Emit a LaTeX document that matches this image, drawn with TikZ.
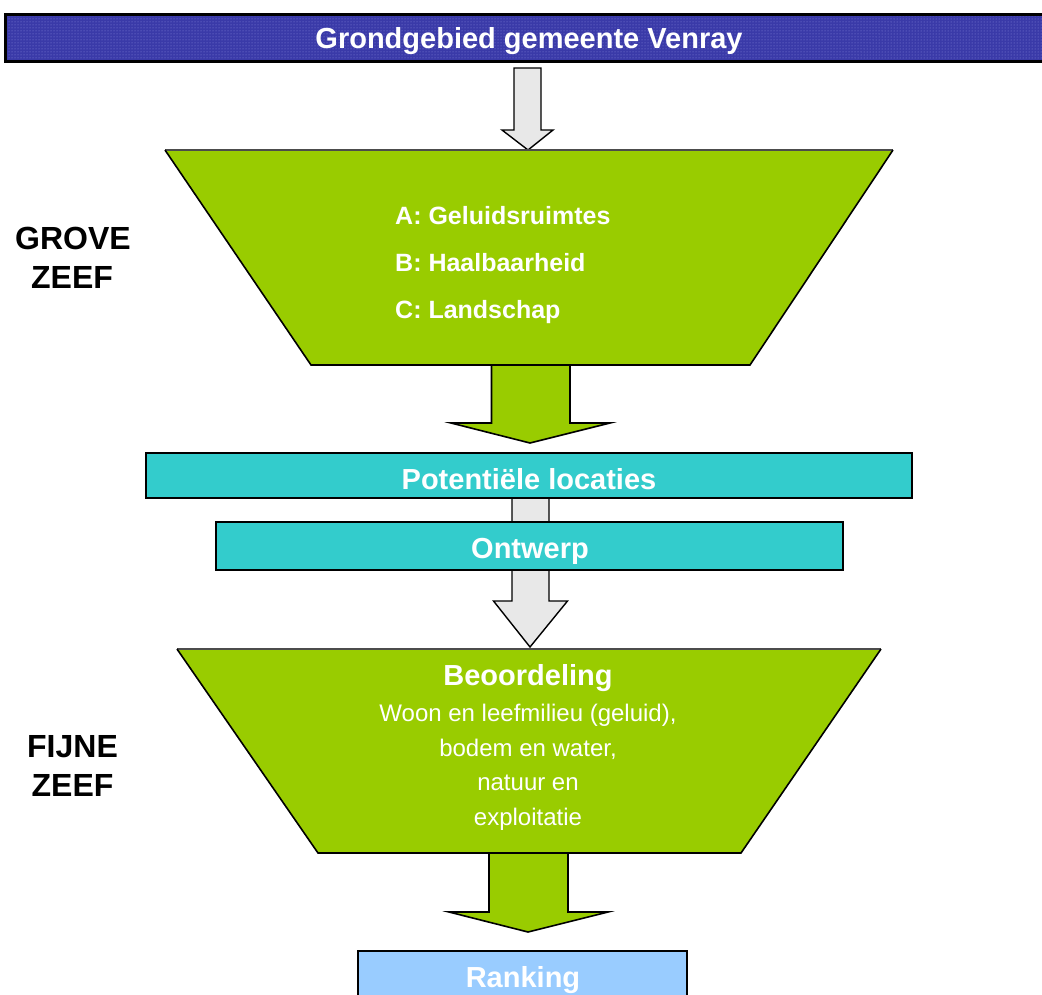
\documentclass[tikz,border=0pt]{standalone}
\usepackage{fontspec}
\setmainfont{Liberation Sans}
\usetikzlibrary{patterns}
\definecolor{barblue}{RGB}{58,58,168}
\definecolor{dotblue}{RGB}{140,140,220}
\definecolor{sievegreen}{RGB}{153,204,0}
\definecolor{boxcyan}{RGB}{51,204,204}
\definecolor{rankblue}{RGB}{153,204,255}
\definecolor{arrowgray}{RGB}{232,232,232}
\tikzset{
  sieve/.style={fill=sievegreen, draw=black, line width=1.6pt, line join=miter},
  greenarrow/.style={fill=sievegreen, draw=black, line width=1.6pt, line join=miter},
  grayarrow/.style={fill=arrowgray, draw=black, line width=1.4pt, line join=miter},
  cyanbox/.style={fill=boxcyan, draw=black, line width=1.8pt},
  boxtext/.style={text=white, font=\bfseries\fontsize{29}{33}\selectfont, anchor=base, inner sep=0pt},
  itemtext/.style={text=white, font=\bfseries\fontsize{25}{29}\selectfont, anchor=base west, inner sep=0pt},
  plaintext/.style={text=white, font=\fontsize{24}{28}\selectfont, anchor=base, inner sep=0pt},
  sidelabel/.style={text=black, font=\bfseries\fontsize{32}{36}\selectfont, anchor=base, inner sep=0pt},
}
\begin{document}
\begin{tikzpicture}[x=1pt,y=-1pt]
\clip (0,0) rectangle (1042,994);
\fill[white] (0,0) rectangle (1042,994);

% top bar
\fill[barblue] (5,14) rectangle (1050,61);
\fill[pattern=dots, pattern color=dotblue] (5,14) rectangle (1050,61);
\draw[black, line width=3pt] (5,14) rectangle (1050,61);
\node[boxtext] (top) at (529,48) {Grondgebied gemeente Venray};

% gray arrow 1
\draw[grayarrow] (514,68) -- (541,68) -- (541,130) -- (553,130) -- (528,150) -- (502,130) -- (514,130) -- cycle;

% grove zeef trapezoid
\coordinate (t1a) at (165,150);
\coordinate (t1b) at (893,150);
\coordinate (t1c) at (750,365);
\coordinate (t1d) at (311,365);
\fill[sievegreen] (t1a) -- (t1b) -- (t1c) -- (t1d) -- cycle;
\draw[black!70, line width=1.2pt] (t1a) -- (t1b);
\draw[black, line width=1.6pt] (t1b) -- (t1c) -- (t1d) -- (t1a);
\node[itemtext] (ia) at (395,224) {A: Geluidsruimtes};
\node[itemtext] (ib) at (395,271) {B: Haalbaarheid};
\node[itemtext] (ic) at (395,318) {C: Landschap};

\node[sidelabel] (grove) at (73,249) {GROVE};
\node[sidelabel] (zeef1) at (72,288) {ZEEF};

% green arrow 1
\draw[greenarrow] (491.5,365) -- (570,365) -- (570,423) -- (610,423) -- (530,443) -- (451,423) -- (491.5,423) -- cycle;

% gray arrow 2 (behind boxes)
\draw[grayarrow] (512,498) -- (549,498) -- (549,601) -- (567.5,601) -- (530,647) -- (493.5,601) -- (512,601) -- cycle;

% potentiele locaties
\draw[cyanbox] (146,453) rectangle (912,498);
\node[boxtext] (pot) at (529,489) {Potentiële locaties};

% ontwerp
\draw[cyanbox] (216,522) rectangle (843,570);
\node[boxtext] (ont) at (530,558) {Ontwerp};

% fijne zeef trapezoid
\coordinate (t2a) at (177,649);
\coordinate (t2b) at (881,649);
\coordinate (t2c) at (741,853);
\coordinate (t2d) at (318,853);
\fill[sievegreen] (t2a) -- (t2b) -- (t2c) -- (t2d) -- cycle;
\draw[black!70, line width=1.2pt] (t2a) -- (t2b);
\draw[black, line width=1.6pt] (t2b) -- (t2c) -- (t2d) -- (t2a);
\node[boxtext] (beo) at (528,685) {Beoordeling};
\node[plaintext] (l1) at (528,721) {Woon en leefmilieu (geluid),};
\node[plaintext] (l2) at (528,756) {bodem en water,};
\node[plaintext] (l3) at (528,790) {natuur en};
\node[plaintext] (l4) at (528,825) {exploitatie};

\node[sidelabel] (fijne) at (72.5,757) {FIJNE};
\node[sidelabel] (zeef2) at (72.5,796) {ZEEF};

% green arrow 2
\draw[greenarrow] (489,853) -- (568,853) -- (568,912) -- (608,912) -- (528,932) -- (449,912) -- (489,912) -- cycle;

% ranking
\draw[fill=rankblue, draw=black, line width=1.8pt] (358,951) rectangle (687,1010);
\node[boxtext] (rank) at (523,987) {Ranking};
\end{tikzpicture}
\end{document}
